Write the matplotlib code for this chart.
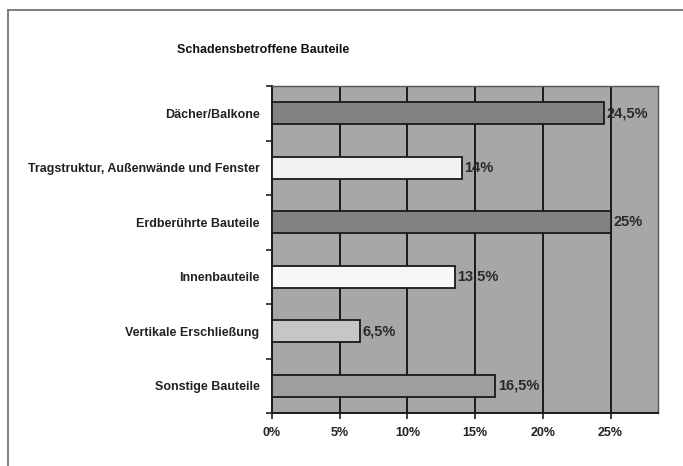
import matplotlib
matplotlib.use("Agg")
import matplotlib.pyplot as plt
from matplotlib.lines import Line2D

plt.rcParams['font.family'] = ['Liberation Sans', 'DejaVu Sans']

categories = ["Dächer/Balkone", "Tragstruktur, Außenwände und Fenster",
              "Erdberührte Bauteile", "Innenbauteile",
              "Vertikale Erschließung", "Sonstige Bauteile"]
values = [24.5, 14, 25, 13.5, 6.5, 16.5]
labels = ["24,5%", "14%", "25%", "13,5%", "6,5%", "16,5%"]
colors = ["#828282", "#f2f2f2", "#828282", "#f7f7f7", "#c6c6c6", "#9e9e9e"]
xticks = [0, 5, 10, 15, 20, 25]

fig = plt.figure(figsize=(6.83, 4.66), dpi=100, facecolor="white")
W, H = 683, 466
ax = fig.add_axes([272 / W, 1 - 413 / H, (658 - 272) / W, (413 - 86) / H])
ax.set_facecolor("#a7a7a7")

ypos = list(range(len(categories)))[::-1]
ax.barh(ypos, values, height=0.4, color=colors, edgecolor="#1a1a1a", lw=1.3, zorder=3)
for y, v, t in zip(ypos, values, labels):
    ax.text(v + 0.2, y, t, va="center", ha="left", fontsize=10.5,
            fontweight="semibold", color="#2a2a2a", zorder=4)

ax.set_xlim(0, 28.5)
ax.set_ylim(-0.5, len(categories) - 0.5)
ax.set_xticks(xticks)
ax.set_xticklabels([f"{x}%" for x in xticks], fontsize=9, fontweight="bold", color="#222222")
ax.set_yticks(ypos)
ax.set_yticklabels(categories, fontsize=9, fontweight="bold", color="#222222")
ax.tick_params(axis="y", length=0, pad=9)
ax.set_yticks([i - 0.5 for i in range(len(categories) + 1)], minor=True)
ax.tick_params(axis="y", which="minor", length=4, width=1.2, color="#222222")
ax.tick_params(axis="x", length=4, width=1.2, color="#222222", pad=6)
for x in xticks[1:]:
    ax.axvline(x, color="#1a1a1a", lw=1.4, zorder=1)
for s in ["top", "right"]:
    ax.spines[s].set_color("#555555")
    ax.spines[s].set_linewidth(1.0)
for s in ["left", "bottom"]:
    ax.spines[s].set_color("#1a1a1a")
    ax.spines[s].set_linewidth(1.4)

fig.text(263 / W, 1 - 50 / H, "Schadensbetroffene Bauteile", ha="center", va="center",
         fontsize=9, fontweight="bold", color="#111111")

# outer frame (only top and left visible)
fig.add_artist(Line2D([8 / W, 8 / W], [0, 1 - 10 / H], transform=fig.transFigure,
                      color="#6a6a6a", lw=1.2))
fig.add_artist(Line2D([8 / W, 1], [1 - 10 / H, 1 - 10 / H], transform=fig.transFigure,
                      color="#6a6a6a", lw=1.2))

fig.savefig("out.png", dpi=100, facecolor="white")
